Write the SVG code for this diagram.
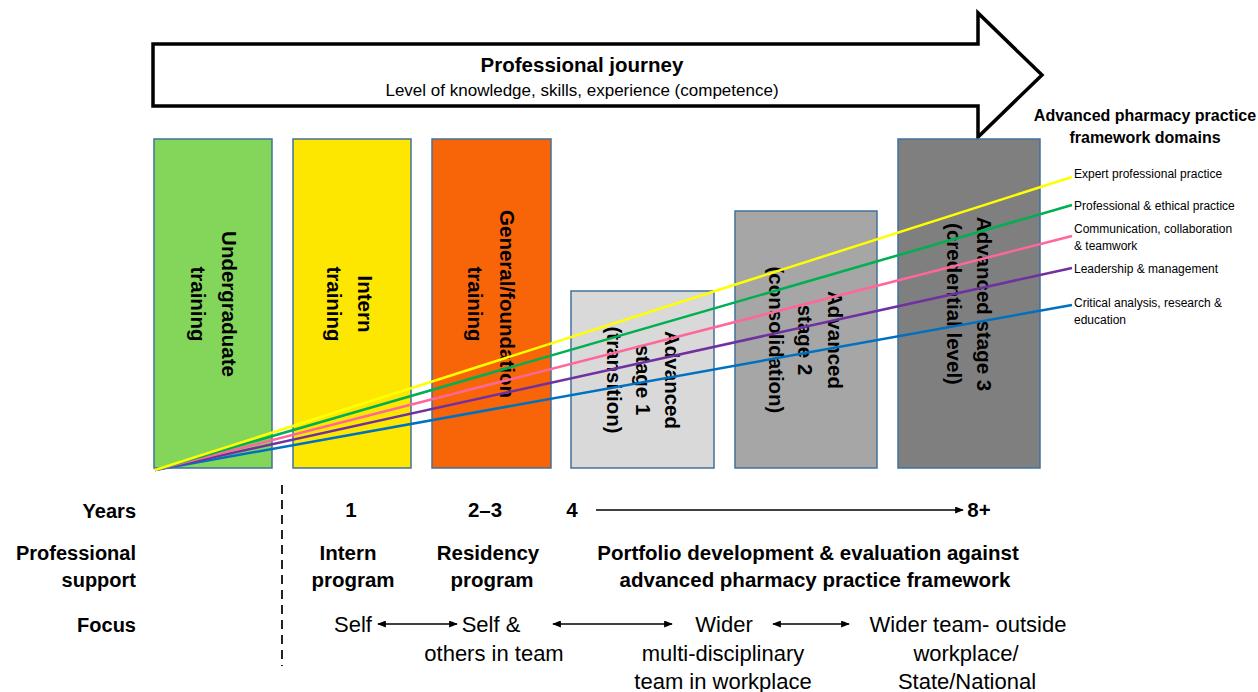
<svg xmlns="http://www.w3.org/2000/svg" width="1258" height="692" viewBox="0 0 1258 692">
<style>
text { font-family: "Liberation Sans", Arial, sans-serif; fill: #000; }
.box { stroke: #41719c; stroke-width: 1.5; }
.blbl { font-weight: bold; font-size: 20.5px; text-anchor: middle; }
.rowh { font-weight: bold; font-size: 20px; text-anchor: end; }
.mid { font-weight: bold; font-size: 20.5px; text-anchor: middle; }
.foc { font-size: 22px; text-anchor: middle; }
.dom { font-size: 12px; }
.dhead { font-weight: bold; font-size: 16px; text-anchor: middle; }
.dl { stroke-width: 2.5; fill: none; }
.arr { stroke: #000; stroke-width: 1.6; fill: none; }
</style>
<defs>
<marker id="ah" viewBox="0 0 10 8" refX="9" refY="4" markerWidth="9" markerHeight="7" markerUnits="userSpaceOnUse" orient="auto-start-reverse">
<path d="M0,0 L10,4 L0,8 z" fill="#000"/>
</marker>
</defs>
<rect width="1258" height="692" fill="#fff"/>

<g id="journey-arrow">
<polygon points="153,44 978,44 978,13 1042,75 978,137 978,106 153,106" fill="#fff" stroke="#000" stroke-width="3.5" stroke-linejoin="miter"/>
<text x="582" y="72" font-weight="bold" font-size="20.5" text-anchor="middle">Professional journey</text>
<text x="582" y="96" font-size="17" text-anchor="middle">Level of knowledge, skills, experience (competence)</text>
</g>

<g id="box-undergraduate">
<rect class="box" x="154" y="139" width="118" height="329" fill="#84d65a"/>
<text class="blbl" transform="translate(222,304) rotate(90)"><tspan x="0" y="0">Undergraduate</tspan><tspan x="0" y="31">training</tspan></text>
</g>
<g id="box-intern">
<rect class="box" x="293" y="139" width="118" height="329" fill="#fde700"/>
<text class="blbl" transform="translate(358,304) rotate(90)"><tspan x="0" y="0">Intern</tspan><tspan x="0" y="31">training</tspan></text>
</g>
<g id="box-general">
<rect class="box" x="432" y="139" width="119" height="329" fill="#f76508"/>
<text class="blbl" transform="translate(500,304) rotate(90)"><tspan x="0" y="0">General/foundation</tspan><tspan x="0" y="32">training</tspan></text>
</g>
<g id="box-stage1">
<rect class="box" x="571" y="291" width="143" height="177" fill="#d9d9d9"/>
<text class="blbl" transform="translate(665,380) rotate(90)"><tspan x="0" y="0">Advanced</tspan><tspan x="0" y="29">stage 1</tspan><tspan x="0" y="58">(transition)</tspan></text>
</g>
<g id="box-stage2">
<rect class="box" x="735" y="211" width="142" height="257" fill="#a6a6a6"/>
<text class="blbl" transform="translate(828,340) rotate(90)"><tspan x="0" y="0">Advanced</tspan><tspan x="0" y="30">stage 2</tspan><tspan x="0" y="59">(consolidation)</tspan></text>
</g>
<g id="box-stage3">
<rect class="box" x="898" y="139" width="142" height="329" fill="#7f7f7f"/>
<text class="blbl" transform="translate(977,304) rotate(90)"><tspan x="0" y="0">Advanced stage 3</tspan><tspan x="0" y="30">(credential level)</tspan></text>
</g>

<g id="connectors">
<line class="dl" x1="155" y1="470" x2="1072" y2="305" stroke="#0070c0"/>
<line class="dl" x1="155" y1="470" x2="1072" y2="268" stroke="#7030a0"/>
<line class="dl" x1="155" y1="470" x2="1072" y2="236" stroke="#ff6699"/>
<line class="dl" x1="155" y1="470" x2="1072" y2="205" stroke="#00b050"/>
<line class="dl" x1="155" y1="470" x2="1072" y2="177" stroke="#ffff00"/>
<line x1="282" y1="485" x2="282" y2="666" stroke="#222" stroke-width="2" stroke-dasharray="9,6"/>
<line class="arr" x1="596" y1="510" x2="963" y2="510" marker-end="url(#ah)"/>
<line class="arr" x1="378" y1="624" x2="457" y2="624" marker-start="url(#ah)" marker-end="url(#ah)"/>
<line class="arr" x1="553" y1="624" x2="672" y2="624" marker-start="url(#ah)" marker-end="url(#ah)"/>
<line class="arr" x1="773" y1="624" x2="849" y2="624" marker-start="url(#ah)" marker-end="url(#ah)"/>
</g>

<g id="domains">
<text class="dhead" x="1145" y="121">Advanced pharmacy practice</text>
<text class="dhead" x="1145" y="143">framework domains</text>
<text class="dom" x="1074" y="178">Expert professional practice</text>
<text class="dom" x="1074" y="210">Professional &amp; ethical practice</text>
<text class="dom" x="1074" y="233">Communication, collaboration</text>
<text class="dom" x="1074" y="250">&amp; teamwork</text>
<text class="dom" x="1074" y="273">Leadership &amp; management</text>
<text class="dom" x="1074" y="307">Critical analysis, research &amp;</text>
<text class="dom" x="1074" y="324">education</text>
</g>

<g id="row-labels">
<text class="rowh" x="136" y="518">Years</text>
<text class="rowh" x="136" y="560">Professional</text>
<text class="rowh" x="136" y="587">support</text>
<text class="rowh" x="136" y="632">Focus</text>
</g>

<g id="years">
<text class="mid" x="351" y="517">1</text>
<text class="mid" x="485" y="517">2–3</text>
<text class="mid" x="572" y="517">4</text>
<text class="mid" x="979" y="517">8+</text>
</g>

<g id="support">
<text class="mid" x="348" y="560">Intern</text>
<text class="mid" x="353" y="587">program</text>
<text class="mid" x="488" y="560">Residency</text>
<text class="mid" x="492" y="587">program</text>
<text class="mid" x="808" y="560">Portfolio development &amp; evaluation against</text>
<text class="mid" x="815" y="587">advanced pharmacy practice framework</text>
</g>

<g id="focus">
<text class="foc" x="353" y="632">Self</text>
<text class="foc" x="491" y="632">Self &amp;</text>
<text class="foc" x="494" y="661">others in team</text>
<text class="foc" x="724" y="632">Wider</text>
<text class="foc" x="723" y="661">multi-disciplinary</text>
<text class="foc" x="723" y="689">team in workplace</text>
<text class="foc" x="968" y="632">Wider team- outside</text>
<text class="foc" x="966" y="661">workplace/</text>
<text class="foc" x="967" y="689">State/National</text>
</g>
</svg>
